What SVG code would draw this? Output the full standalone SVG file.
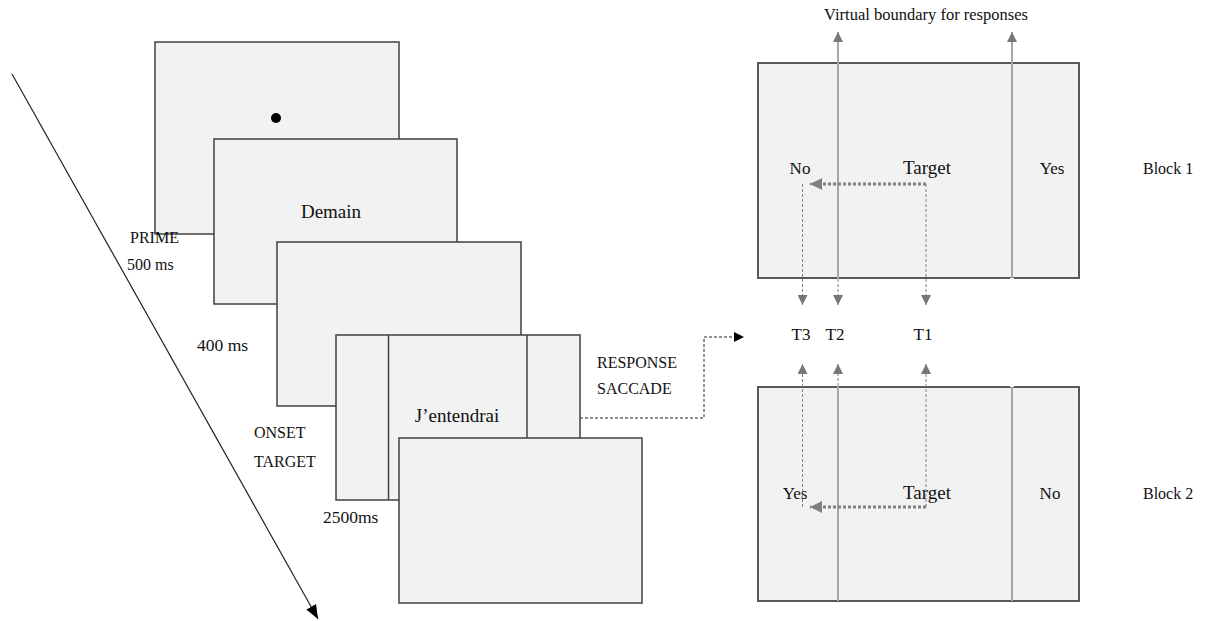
<svg xmlns="http://www.w3.org/2000/svg" width="1213" height="621" viewBox="0 0 1213 621">
<style>
text{font-family:"Liberation Serif","Times New Roman",serif;fill:#111;}
.lbl{font-size:16px;}
.t{font-size:17px;text-anchor:middle;}
.big{font-size:19px;}
.frame{fill:#f2f2f2;stroke:#404040;stroke-width:1.5;}
.inner{stroke:#404040;stroke-width:1.5;fill:none;}
.blk{fill:#f2f2f2;stroke:#595959;stroke-width:2;}
.bnd{stroke:#a6a6a6;stroke-width:2;fill:none;}
.thin{stroke:#808080;stroke-width:1;stroke-dasharray:3 2;fill:none;}
.dot{stroke:#808080;stroke-width:3;stroke-dasharray:3 2;fill:none;}
</style>
<defs>
<marker id="ga" viewBox="0 0 10 10" refX="10" refY="5" markerWidth="10" markerHeight="10" markerUnits="userSpaceOnUse" orient="auto"><path d="M0,0 L10,5 L0,10 z" fill="#777"/></marker>
<marker id="gb" viewBox="0 0 10 10" refX="10" refY="5" markerWidth="4" markerHeight="4" orient="auto"><path d="M0,0 L10,5 L0,10 z" fill="#808080"/></marker>
<marker id="ba" viewBox="0 0 10 10" refX="10" refY="5" markerWidth="10" markerHeight="10" markerUnits="userSpaceOnUse" orient="auto"><path d="M0,0 L10,5 L0,10 z" fill="#000"/></marker>
<marker id="bl" viewBox="0 0 10 10" refX="10" refY="5" markerWidth="14" markerHeight="14" markerUnits="userSpaceOnUse" orient="auto"><path d="M0,1 L10,5 L0,9 z" fill="#000"/></marker>
</defs>

<g id="connectors">
<line x1="12" y1="74" x2="318" y2="619" stroke="#222" stroke-width="1.2" marker-end="url(#bl)"/>
<path d="M580,418 H704 V337 H744" fill="none" stroke="#222" stroke-width="1" stroke-dasharray="3 2" marker-end="url(#ba)"/>
</g>

<g id="frame1"><rect class="frame" x="155" y="42" width="244" height="192"/><circle cx="276" cy="118" r="5" fill="#000"/></g>
<g id="frame2"><rect class="frame" x="214" y="139" width="243" height="165"/><text class="t big" x="331" y="218">Demain</text></g>
<g id="frame3"><rect class="frame" x="277" y="242" width="244" height="164"/></g>
<g id="frame4"><rect class="frame" x="336" y="335" width="244" height="165"/><line class="inner" x1="388.5" y1="335" x2="388.5" y2="500"/><line class="inner" x1="527" y1="335" x2="527" y2="500"/><text class="t big" x="457" y="422">J’entendrai</text></g>
<g id="frame5"><rect class="frame" x="399" y="438" width="243" height="165"/></g>

<g id="labels">
<text class="lbl" x="130" y="243">PRIME</text>
<text class="lbl" x="127" y="270">500 ms</text>
<text class="lbl" x="197" y="351" style="font-size:17.5px">400 ms</text>
<text class="lbl" x="254" y="438">ONSET</text>
<text class="lbl" x="254" y="467">TARGET</text>
<text class="lbl" x="323" y="523" style="font-size:17.5px">2500ms</text>
<text class="lbl" x="597" y="368">RESPONSE</text>
<text class="lbl" x="597" y="394">SACCADE</text>
</g>

<g id="block1">
<rect class="blk" x="758" y="63" width="321" height="215"/>
<text class="t" x="800" y="174">No</text>
<text class="t big" x="927" y="174">Target</text>
<text class="t" x="1052" y="174">Yes</text>
</g>
<g id="block2">
<rect class="blk" x="758" y="387" width="321" height="214"/>
<text class="t" x="795" y="499">Yes</text>
<text class="t big" x="927" y="499">Target</text>
<text class="t" x="1050" y="499">No</text>
</g>

<g id="boundaries">
<line class="bnd" x1="838" y1="601" x2="838" y2="32" marker-end="url(#ga)"/>
<line class="bnd" x1="1012" y1="601" x2="1012" y2="32" marker-end="url(#ga)"/>
<line x1="1012" y1="278" x2="1012" y2="387" stroke="#fff" stroke-width="4"/>
<line x1="838" y1="279" x2="838" y2="386" stroke="#fff" stroke-width="4"/>
<line class="thin" x1="838" y1="279" x2="838" y2="305" marker-end="url(#ga)"/>
<line class="thin" x1="838" y1="386" x2="838" y2="364" marker-end="url(#ga)"/>
<text x="926" y="20" text-anchor="middle" style="font-size:16.5px">Virtual boundary for responses</text>
</g>

<g id="trajectories">
<path class="dot" d="M926,184 H810" marker-end="url(#gb)"/>
<path class="thin" d="M926,184 V305" marker-end="url(#ga)"/>
<path class="thin" d="M802.5,184 V305" marker-end="url(#ga)"/>
<path class="dot" d="M926,507 H810" marker-end="url(#gb)"/>
<path class="thin" d="M926,507 V364" marker-end="url(#ga)"/>
<path class="thin" d="M802.5,507 V364" marker-end="url(#ga)"/>
<text class="t" x="801" y="340">T3</text>
<text class="t" x="835" y="340">T2</text>
<text class="t" x="923" y="340">T1</text>
</g>

<g id="blocklabels">
<text class="lbl" x="1143" y="174">Block 1</text>
<text class="lbl" x="1143" y="499">Block 2</text>
</g>
</svg>
